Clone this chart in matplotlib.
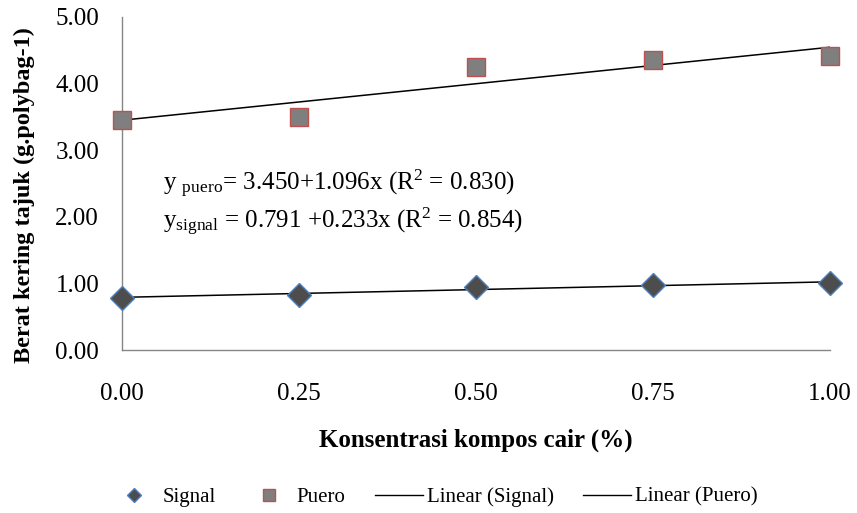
import numpy as np
import matplotlib
matplotlib.use("Agg")
import matplotlib.pyplot as plt
from matplotlib.lines import Line2D

plt.rcParams["font.family"] = ["Liberation Serif", "DejaVu Serif"]
plt.rcParams["mathtext.fontset"] = "custom"
plt.rcParams["mathtext.rm"] = "Liberation Serif"
plt.rcParams["mathtext.it"] = "Liberation Serif:italic"

# data
konsentrasi = [0.00, 0.25, 0.50, 0.75, 1.00]
signal = [0.78, 0.82, 0.95, 0.97, 1.00]
puero = [3.46, 3.50, 4.25, 4.35, 4.42]

# trendline coefficients as printed on the chart (intercept, slope)
fit_signal = [0.791, 0.233]
fit_puero = [3.450, 1.096]

ytick_vals = [0, 1, 2, 3, 4, 5]
xtick_vals = [0.00, 0.25, 0.50, 0.75, 1.00]

fig = plt.figure(figsize=(8.57, 5.13), dpi=100)
ax = fig.add_axes([0.1424, 0.3177, 0.8261, 0.6492])

xx = np.array([konsentrasi[0], konsentrasi[-1]])
ax.plot(xx, fit_signal[0] + fit_signal[1] * xx, color="black", lw=1.1, zorder=2)
ax.plot(xx, fit_puero[0] + fit_puero[1] * xx, color="black", lw=1.1, zorder=2)

ax.plot(konsentrasi, signal, linestyle="none", marker="D", markersize=12,
        markerfacecolor="#4d4d4d", markeredgecolor="#4f81bd", markeredgewidth=1.0,
        clip_on=False, zorder=3)
ax.plot(konsentrasi, puero, linestyle="none", marker="s", markersize=13.5,
        markerfacecolor="#7f7f7f", markeredgecolor="#c0504d", markeredgewidth=1.0,
        clip_on=False, zorder=3)

ax.set_xlim(0, 1.0)
ax.set_ylim(0, 5)
ax.set_xticks(xtick_vals)
ax.set_xticklabels([f"{v:.2f}" for v in xtick_vals])
ax.set_yticks(ytick_vals)
ax.set_yticklabels([f"{v:.2f}" for v in ytick_vals])
ax.tick_params(axis="both", length=0, labelsize=18)
ax.tick_params(axis="y", pad=16.5)
ax.tick_params(axis="x", pad=24)

for s in ["top", "right"]:
    ax.spines[s].set_visible(False)
for s in ["left", "bottom"]:
    ax.spines[s].set_color("#868686")
    ax.spines[s].set_linewidth(1.0)

ax.set_ylabel("Berat kering tajuk (g.polybag-1)", fontsize=17.5, fontweight="bold")
ax.yaxis.set_label_coords(-0.123, 0.465)
ax.set_xlabel("Konsentrasi kompos cair (%)", fontsize=18, fontweight="bold", labelpad=17)

ax.text(0.058, 0.50, r"y $_{\mathrm{puero}}$= 3.450+1.096x (R$^{2}$ = 0.830)",
        transform=ax.transAxes, fontsize=18, va="center", ha="left")
ax.text(0.058, 0.385, r"y$_{\mathrm{signal}}$ = 0.791 +0.233x (R$^{2}$ = 0.854)",
        transform=ax.transAxes, fontsize=18, va="center", ha="left")

handles = [
    Line2D([0], [0], linestyle="none", marker="D", markersize=7,
           markerfacecolor="#4d4d4d", markeredgecolor="#4f81bd", label="Signal"),
    Line2D([0], [0], linestyle="none", marker="s", markersize=8,
           markerfacecolor="#7f7f7f", markeredgecolor="#c0504d", label="Puero"),
    Line2D([0], [0], color="black", lw=1.0, label="Linear (Signal)"),
    Line2D([0], [0], color="black", lw=1.0, label="Linear (Puero)"),
]
fig.legend(handles=handles, loc="center", bbox_to_anchor=(434 / 857, 0.031),
           ncol=4, frameon=False, fontsize=15, handlelength=2.3,
           handletextpad=0.2, columnspacing=1.4)

fig.savefig("out.png", dpi=100)
